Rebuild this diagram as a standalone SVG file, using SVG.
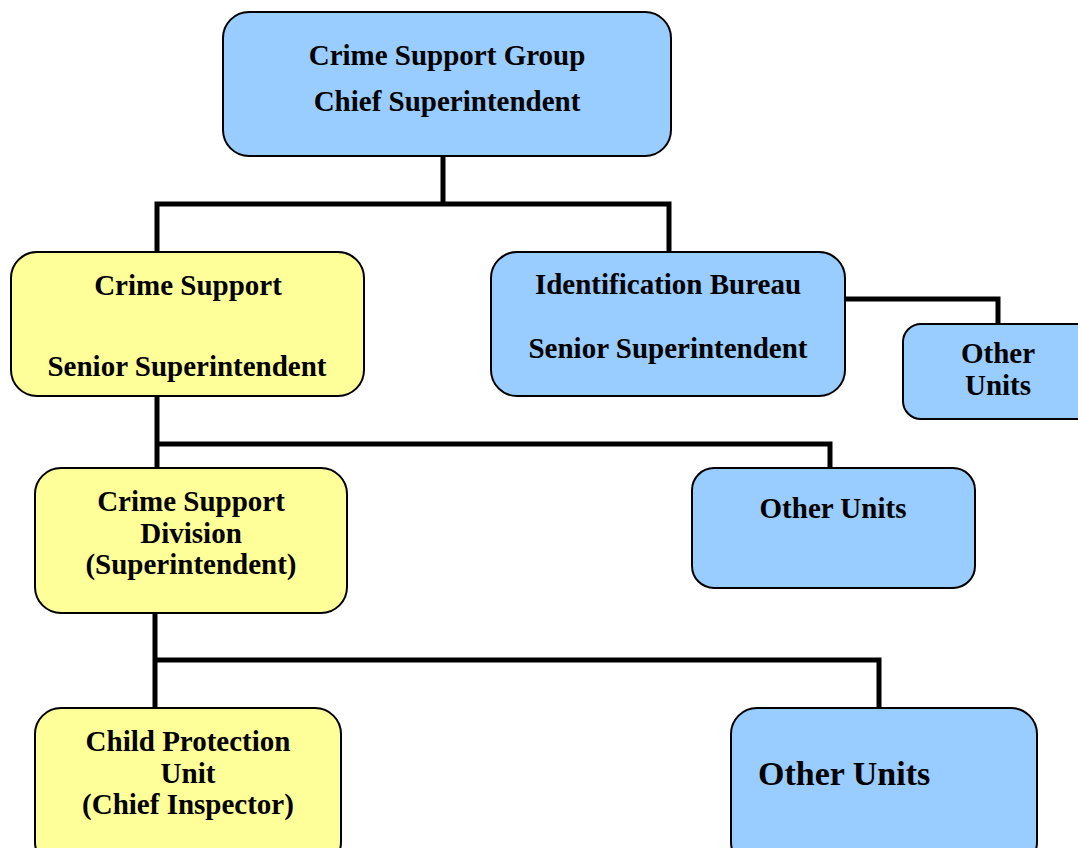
<svg xmlns="http://www.w3.org/2000/svg" width="1078" height="848" viewBox="0 0 1078 848">
<style>
.box{stroke:#000;stroke-width:2}
.blue{fill:#99CCFF}
.yellow{fill:#FFFF99}
.t{font-family:"Liberation Serif","Times New Roman",serif;font-weight:bold;font-size:29px;fill:#000;text-anchor:middle}
.conn{fill:none;stroke:#000;stroke-width:5;stroke-linejoin:miter}
</style>
<rect width="1078" height="848" fill="#fff"/>
<g id="connectors">
<polyline class="conn" points="443,156 443,204"/>
<polyline class="conn" points="157,252 157,204 669,204 669,252"/>
<polyline class="conn" points="845,299 998,299 998,324"/>
<polyline class="conn" points="157,396 157,468"/>
<polyline class="conn" points="157,444 830,444 830,468"/>
<polyline class="conn" points="155,613 155,708"/>
<polyline class="conn" points="155,660 879,660 879,708"/>
</g>
<g id="n-group">
<rect class="box blue" x="223" y="12" width="448" height="144" rx="26"/>
<text class="t" x="447" y="65">Crime Support Group</text>
<text class="t" x="447" y="111">Chief Superintendent</text>
</g>
<g id="n-crime-support">
<rect class="box yellow" x="11" y="252" width="353" height="144" rx="26"/>
<text class="t" x="188" y="295">Crime Support</text>
<text class="t" x="187" y="376">Senior Superintendent</text>
</g>
<g id="n-ident">
<rect class="box blue" x="491" y="252" width="354" height="144" rx="26"/>
<text class="t" x="668" y="294">Identification Bureau</text>
<text class="t" x="668" y="358">Senior Superintendent</text>
</g>
<g id="n-other-1">
<rect class="box blue" x="903" y="324" width="200" height="95" rx="18"/>
<text class="t" x="998" y="363">Other</text>
<text class="t" x="998" y="395">Units</text>
</g>
<g id="n-division">
<rect class="box yellow" x="35" y="468" width="312" height="145" rx="26"/>
<text class="t" x="191" y="511">Crime Support</text>
<text class="t" x="191" y="543">Division</text>
<text class="t" x="191" y="574">(Superintendent)</text>
</g>
<g id="n-other-2">
<rect class="box blue" x="692" y="468" width="283" height="120" rx="22"/>
<text class="t" x="833" y="518">Other Units</text>
</g>
<g id="n-child">
<rect class="box yellow" x="35" y="708" width="306" height="160" rx="26"/>
<text class="t" x="188" y="751">Child Protection</text>
<text class="t" x="188" y="783">Unit</text>
<text class="t" x="188" y="814">(Chief Inspector)</text>
</g>
<g id="n-other-3">
<rect class="box blue" x="731" y="708" width="306" height="160" rx="26"/>
<text class="t" x="758" y="785" style="font-size:34px;text-anchor:start">Other Units</text>
</g>
</svg>
